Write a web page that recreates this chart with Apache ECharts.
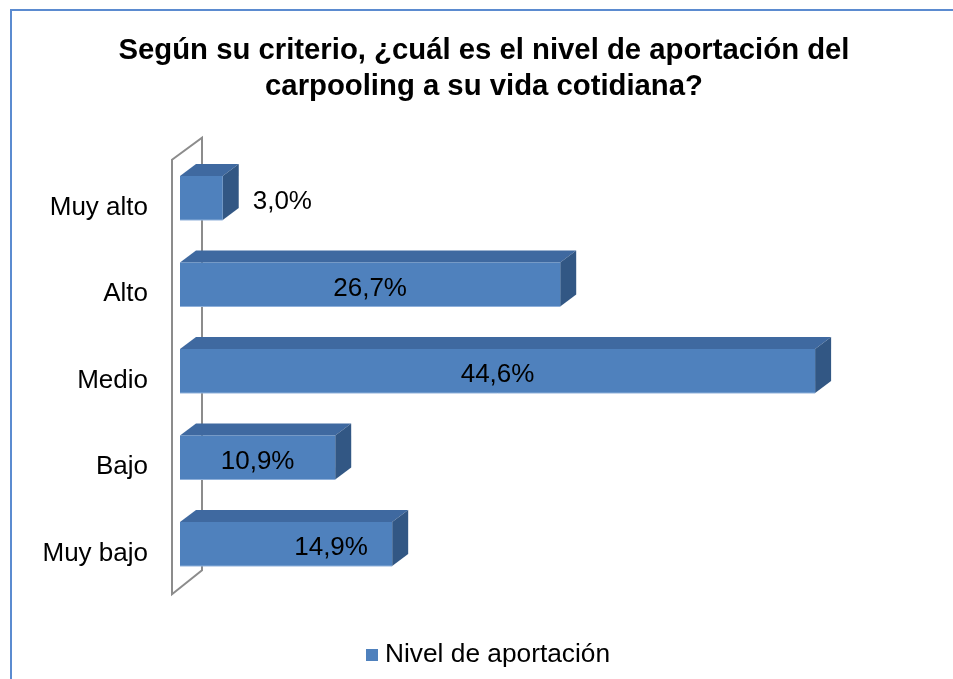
<!DOCTYPE html>
<html>
<head>
<meta charset="utf-8">
<script src="https://cdn.jsdelivr.net/npm/echarts@6/dist/echarts.min.js"></script>
<style>
  html, body { margin: 0; padding: 0; background: #ffffff; }
  #chart { width: 953px; height: 679px; }
</style>
</head>
<body>
<div id="chart"></div>
<script>
// ---- data ----
const titleText = 'Según su criterio, ¿cuál es el nivel de aportación del\ncarpooling a su vida cotidiana?';
const categories = ['Muy alto', 'Alto', 'Medio', 'Bajo', 'Muy bajo'];
const seriesName = 'Nivel de aportación';
const values = [3.0, 26.7, 44.6, 10.9, 14.9];

// ---- style (not data) ----
const labelShiftX = [0, 0, 0, 0, 45];
const FONT = '"Liberation Sans", Arial, sans-serif';
const FRONT = '#4F81BD', TOP = '#3F69A0', SIDE = '#325784';
const DX = 16, DY = -12, BAR_H = 44;

const chart = echarts.init(document.getElementById('chart'), null, { renderer: 'canvas' });

function fmt(v) { return v.toFixed(1).replace('.', ',') + '%'; }

chart.setOption({
  backgroundColor: '#ffffff',
  animation: false,
  title: {
    text: titleText,
    left: 479,
    top: 28,
    textAlign: 'center',
    textStyle: { fontFamily: FONT, fontSize: 29.3, fontWeight: 'bold', color: '#000', lineHeight: 36 }
  },
  graphic: [{
    type: 'rect',
    shape: { x: 11, y: 10, width: 1000, height: 800 },
    style: { fill: 'none', stroke: '#5B8BD0', lineWidth: 2 },
    silent: true
  }],
  legend: {
    data: [seriesName],
    left: 361,
    top: 637,
    icon: 'rect',
    itemWidth: 12,
    itemHeight: 12,
    itemGap: 10,
    textStyle: { fontFamily: FONT, fontSize: 26.3, color: '#000', lineHeight: 26, padding: [0, 0, 0, 2] }
  },
  grid: { left: 180, top: 154.75, height: 432.5, right: 61 },
  xAxis: { type: 'value', min: 0, max: 50, show: false },
  yAxis: {
    type: 'category',
    data: categories,
    inverse: true,
    axisLine: { show: false },
    axisTick: { show: false },
    splitLine: { show: false },
    axisLabel: {
      margin: 32,
      fontFamily: FONT,
      fontSize: 26,
      color: '#000',
      verticalAlign: 'top',
      lineHeight: 19
    }
  },
  series: [
    {
      name: 'wall',
      type: 'custom',
      silent: true,
      z: 1,
      data: [[0, 0]],
      encode: { x: 1, y: 0 },
      renderItem: function (params, api) {
        const cs = params.coordSys;
        const fx = cs.x - 8, bx = cs.x + 22;
        const ft = cs.y + 5, fb = cs.y + cs.height + 7;
        const bt = ft - 22, bb = fb - 24;
        return {
          type: 'polygon',
          shape: { points: [[fx, ft], [bx, bt], [bx, bb], [fx, fb]] },
          style: { fill: 'none', stroke: '#8C8C8C', lineWidth: 2 }
        };
      }
    },
    {
      name: seriesName,
      type: 'custom',
      z: 2,
      itemStyle: { color: FRONT },
      data: values.map((v, i) => [i, v]),
      encode: { x: 1, y: 0 },
      renderItem: function (params, api) {
        const cat = api.value(0), v = api.value(1);
        const p0 = api.coord([0, cat]);
        const p1 = api.coord([v, cat]);
        const x0 = p0[0], x1 = p1[0], cy = p0[1];
        const y0 = cy - BAR_H / 2, y1 = cy + BAR_H / 2;
        const w = x1 - x0;
        const txt = fmt(v);
        const inside = w > 80;
        const label = inside
          ? { type: 'text', x: (x0 + x1) / 2 + labelShiftX[params.dataIndex], y: cy + 4,
              style: { text: txt, fontFamily: FONT, fontSize: 26, fill: '#000', align: 'center', verticalAlign: 'middle' }, z2: 10 }
          : { type: 'text', x: x1 + DX + 14, y: cy + 4,
              style: { text: txt, fontFamily: FONT, fontSize: 26, fill: '#000', align: 'left', verticalAlign: 'middle' }, z2: 10 };
        return {
          type: 'group',
          children: [
            { type: 'polygon', shape: { points: [[x0, y0], [x0 + DX, y0 + DY], [x1 + DX, y0 + DY], [x1, y0]] },
              style: { fill: TOP } },
            { type: 'polygon', shape: { points: [[x1, y0], [x1 + DX, y0 + DY], [x1 + DX, y1 + DY], [x1, y1]] },
              style: { fill: SIDE } },
            { type: 'rect', shape: { x: x0, y: y0, width: w, height: BAR_H },
              style: { fill: FRONT } },
            { type: 'line', shape: { x1: x0, y1: y1, x2: x1, y2: y1 },
              style: { stroke: '#8FB0DA', lineWidth: 1 } },
            label
          ]
        };
      }
    }
  ]
});
</script>
</body>
</html>
